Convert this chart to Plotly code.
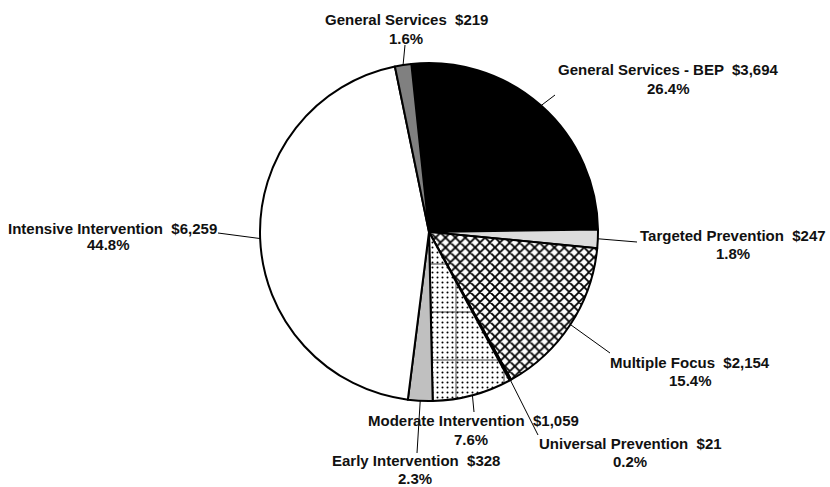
import math
import plotly.graph_objects as go

labels = ["General Services - BEP", "Targeted Prevention", "Multiple Focus",
          "Universal Prevention", "Moderate Intervention", "Early Intervention",
          "Intensive Intervention", "General Services"]
values = [3694, 247, 2154, 21, 1059, 328, 6259, 219]
colors = ["#000000", "#dcdcdc", "#ffffff", "#ffffff", "#ffffff", "#c0c0c0",
          "#ffffff", "#808080"]
patterns = ["", "", "x", "", ".", "", "", ""]

# label placement in pixels: centre x, first line y, second line y
label_pos = [(668, 69, 88), (733, 235, 253), (690, 362, 380), (630, 443, 461),
             (473, 420, 439), (416, 460, 478), (112, 228, 245), (406, 20, 38)]
pct_x = [668, 733, 690, 630, 471, 415, 108, 406]
leader_end = [(555, 95), (637, 242), (610, 353), (538, 435), (474, 412),
              (417, 453), (218, 233), (405, 45)]

W, H = 830, 487
cx, cy, r = 429, 232, 169
rotation = -6
dom = dict(x=[(cx - r) / W, (cx + r) / W], y=[1 - (cy + r) / H, 1 - (cy - r) / H])

fig = go.Figure()
fig.add_trace(go.Pie(
    labels=labels, values=values, sort=False, direction="clockwise",
    rotation=rotation, textinfo="none", hoverinfo="label+value+percent",
    domain=dom,
    marker=dict(colors=colors, line=dict(color="black", width=2),
                pattern=dict(shape=patterns, fgcolor="black", bgcolor="white",
                             size=[6, 6, 7, 6, 5, 6, 6, 6],
                             solidity=[0.3, 0.3, 0.45, 0.3, 0.13, 0.3, 0.3, 0.3])),
    showlegend=False,
))
# grid overlay on the moderate slice
fig.add_trace(go.Pie(
    labels=labels, values=values, sort=False, direction="clockwise",
    rotation=rotation, textinfo="none", hoverinfo="skip",
    domain=dom,
    marker=dict(colors=["rgba(0,0,0,0)"] * len(values), line=dict(width=0),
                pattern=dict(shape=["", "", "", "", "+", "", "", ""],
                             fgcolor="black", bgcolor="rgba(0,0,0,0)",
                             size=48, solidity=0.06, fillmode="overlay")),
    showlegend=False,
))

total = sum(values)
cum = 0
font = dict(family="Liberation Sans, Arial", size=15, color="#111111")
for lab, v, (lx, ly1, ly2), px, (ex, ey) in zip(labels, values, label_pos, pct_x, leader_end):
    mid = math.radians(rotation + (cum + v / 2) / total * 360)
    cum += v
    sx = cx + r * math.sin(mid)
    sy = cy - r * math.cos(mid)
    fig.add_shape(type="line", xref="paper", yref="paper",
                  x0=sx / W, y0=1 - sy / H, x1=ex / W, y1=1 - ey / H,
                  line=dict(color="black", width=1))
    fig.add_annotation(x=lx / W, y=1 - ly1 / H, xref="paper", yref="paper",
                       text=f"<b>{lab}  ${v:,}</b>", showarrow=False,
                       xanchor="center", yanchor="middle", font=font)
    fig.add_annotation(x=px / W, y=1 - ly2 / H, xref="paper", yref="paper",
                       text=f"<b>{v / total * 100:.1f}%</b>", showarrow=False,
                       xanchor="center", yanchor="middle", font=font)

fig.update_layout(
    width=W, height=H, margin=dict(l=0, r=0, t=0, b=0),
    paper_bgcolor="white", plot_bgcolor="white",
)
fig.write_html("out.html", config={"displayModeBar": False},
               post_script="document.body.style.margin='0';")
